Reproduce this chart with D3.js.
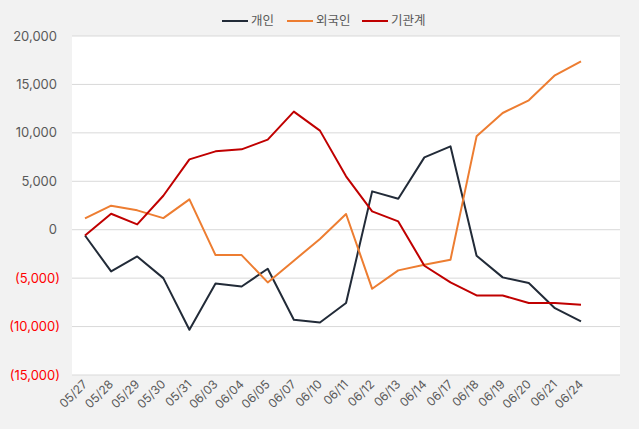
<!DOCTYPE html>
<html><head><meta charset="utf-8">
<script src="https://cdn.jsdelivr.net/npm/d3@7/dist/d3.min.js"></script>
<style>body{margin:0;background:#fff}svg{display:block;font-family:Inter,"Noto Sans CJK KR",sans-serif}</style>
</head><body><svg id="c" width="643" height="437"></svg>
<script>
const categories = ["05/27","05/28","05/29","05/30","05/31","06/03","06/04","06/05","06/07","06/10","06/11","06/12","06/13","06/14","06/17","06/18","06/19","06/20","06/21","06/24"];
const seriesNames = ["개인","외국인","기관계"];
const individual = [-600,-4300,-2760,-5000,-10330,-5550,-5860,-4030,-9300,-9580,-7570,3960,3200,7470,8610,-2690,-4920,-5510,-8100,-9470];
const foreign = [1170,2480,2000,1200,3130,-2620,-2620,-5440,-3200,-950,1620,-6100,-4200,-3620,-3100,9640,12050,13360,15940,17390];
const institution = [-600,1650,550,3510,7260,8090,8300,9300,12190,10230,5510,1890,860,-3720,-5440,-6790,-6790,-7570,-7570,-7750];
const yTicks = [-15000,-10000,-5000,0,5000,10000,15000,20000];
const colors = ["#222b38","#ed7d31","#c00000"];

const svg = d3.select("#c");
svg.append("rect").attr("x",0).attr("y",0).attr("width",639).attr("height",429).attr("fill","#f2f2f2");
const L=72,R=620,T=36,B=375;
svg.append("rect").attr("x",L).attr("y",T).attr("width",R-L).attr("height",B-T).attr("fill","#fff");

const x = d3.scalePoint().domain(categories).range([85,581]);
const y = d3.scaleLinear().domain([-15000,20000]).range([B,T]);

svg.append("g").selectAll("line").data(yTicks).join("line")
  .attr("x1",L).attr("x2",R).attr("y1",d=>y(d)).attr("y2",d=>y(d))
  .attr("stroke","#d9d9d9").attr("stroke-width",1);

const fmt = d3.format(",");
svg.append("g").selectAll("text").data(yTicks).join("text")
  .attr("x",d=>d<0?60:57).attr("y",d=>y(d)).attr("dy","0.35em").attr("text-anchor","end")
  .attr("font-size",13).attr("fill",d=>d<0?"#ff0000":"#595959")
  .text(d=>d<0?"("+fmt(-d)+")":fmt(d));

svg.append("g").selectAll("text").data(categories).join("text")
  .attr("transform",d=>`translate(${x(d)+3},${385}) rotate(-45)`)
  .attr("text-anchor","end").attr("font-size",12).attr("fill","#595959")
  .text(d=>d);

const all=[individual,foreign,institution];
const line = d3.line().x((d,i)=>x(categories[i])).y(d=>y(d));
all.forEach((s,k)=>{
  svg.append("path").datum(s).attr("d",line).attr("fill","none")
    .attr("stroke",colors[k]).attr("stroke-width",2).attr("stroke-linejoin","round");
});

const lx=[222,287,362];
const lg = svg.append("g");
seriesNames.forEach((n,k)=>{
  lg.append("line").attr("x1",lx[k]).attr("x2",lx[k]+26).attr("y1",21).attr("y2",21)
    .attr("stroke",colors[k]).attr("stroke-width",2);
  lg.append("text").attr("x",lx[k]+29).attr("y",21).attr("dy","0.35em")
    .attr("font-size",12.5).attr("fill","#595959").text(n);
});
</script></body></html>
